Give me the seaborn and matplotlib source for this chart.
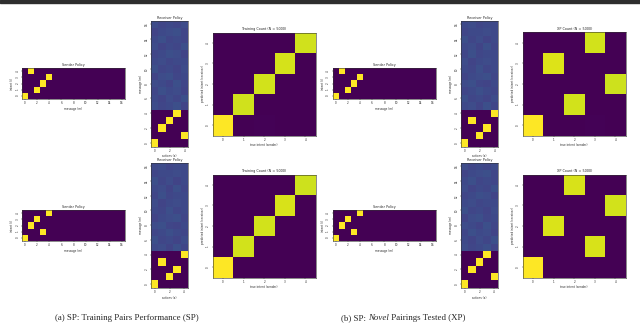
import matplotlib
matplotlib.use('Agg')
import numpy as np
import matplotlib.pyplot as plt
import seaborn as sns
from matplotlib.patches import Rectangle

sns.set_style('white')
plt.rcParams['font.family'] = ['DejaVu Sans']

# sender: message chosen for each intent (intent 0..4)
sender_1 = [0, 2, 3, 4, 1]
sender_2 = [0, 3, 1, 2, 4]
n_messages = 17

# receiver: action chosen for each used message (message 0..4)
receiver_1 = [0, 4, 1, 2, 3]
receiver_2 = [0, 2, 3, 1, 4]

# receiver probabilities for unused messages 5..16 (rows), actions 0..4
receiver_1_unused = [
    [0.23, 0.21, 0.22, 0.24, 0.20],
    [0.22, 0.20, 0.23, 0.21, 0.24],
    [0.21, 0.24, 0.22, 0.23, 0.20],
    [0.23, 0.22, 0.20, 0.24, 0.21],
    [0.20, 0.23, 0.24, 0.21, 0.22],
    [0.24, 0.21, 0.22, 0.20, 0.23],
    [0.22, 0.23, 0.21, 0.22, 0.22],
    [0.21, 0.22, 0.24, 0.23, 0.20],
    [0.23, 0.20, 0.22, 0.21, 0.24],
    [0.22, 0.24, 0.21, 0.22, 0.21],
    [0.20, 0.22, 0.23, 0.24, 0.21],
    [0.23, 0.21, 0.22, 0.21, 0.23],
]
receiver_2_unused = [
    [0.22, 0.23, 0.20, 0.24, 0.21],
    [0.24, 0.21, 0.22, 0.20, 0.23],
    [0.21, 0.22, 0.24, 0.22, 0.21],
    [0.23, 0.24, 0.21, 0.20, 0.22],
    [0.20, 0.22, 0.23, 0.24, 0.21],
    [0.22, 0.21, 0.24, 0.21, 0.22],
    [0.23, 0.20, 0.22, 0.23, 0.22],
    [0.21, 0.24, 0.21, 0.22, 0.22],
    [0.22, 0.23, 0.20, 0.24, 0.21],
    [0.24, 0.21, 0.23, 0.20, 0.22],
    [0.21, 0.22, 0.22, 0.23, 0.22],
    [0.22, 0.23, 0.21, 0.22, 0.22],
]

# confusion counts: rows = predicted intent (0 at bottom), cols = true intent
conf_a_top = [[1042, 3, 6, 2, 0],
              [0, 965, 0, 4, 0],
              [0, 0, 972, 0, 0],
              [0, 0, 0, 975, 0],
              [0, 0, 0, 0, 968]]
conf_b_top = [[1040, 4, 0, 5, 0],
              [0, 0, 968, 2, 0],
              [0, 0, 0, 0, 962],
              [0, 985, 0, 0, 0],
              [0, 0, 0, 970, 0]]
conf_a_bot = [[1045, 0, 0, 3, 0],
              [0, 972, 0, 0, 0],
              [0, 0, 975, 0, 0],
              [0, 0, 0, 980, 0],
              [0, 0, 0, 0, 966]]
conf_b_bot = [[1040, 0, 0, 0, 0],
              [0, 0, 0, 975, 0],
              [0, 982, 0, 0, 0],
              [0, 0, 0, 0, 968],
              [0, 0, 978, 0, 0]]

conf_titles = ['Training Count (N = 5000)', 'XP Count (N = 5000)']
captions = ['(a) SP: Training Pairs Performance (SP)',
            ['(b) SP: ', 'Novel', ' Pairings Tested (XP)']]

W, H = 640, 336
fig = plt.figure(figsize=(W / 100, H / 100), dpi=100)


def px_axes(left, top, width, height):
    return fig.add_axes([left / W, 1 - (top + height) / H, width / W, height / H])


def style(ax, title, xlabel, ylabel, fs=2.0):
    ax.invert_yaxis()
    ax.set_title(title, fontsize=2.4, pad=1.5)
    ax.set_xlabel(xlabel, fontsize=fs, labelpad=1)
    ax.set_ylabel(ylabel, fontsize=fs, labelpad=1)
    ax.tick_params(labelsize=fs, length=1, width=0.3, pad=0.8, bottom=True, left=True)
    for lab in ax.get_yticklabels():
        lab.set_rotation(90)
        lab.set_va('center')
    for lab in ax.get_xticklabels():
        lab.set_rotation(0)
    for sp in ax.spines.values():
        sp.set_visible(True)
        sp.set_linewidth(0.4)
        sp.set_color('#333333')


def draw_sender(ax, mapping):
    mat = np.zeros((len(mapping), n_messages))
    for i, m in enumerate(mapping):
        mat[i, m] = 1.0
    sns.heatmap(mat, ax=ax, cmap='viridis', vmin=0, vmax=1, cbar=False,
                square=True, xticklabels=2, yticklabels=1)
    style(ax, 'Sender Policy', 'message (m)', 'intent (i)')


def draw_receiver(ax, mapping, unused):
    mat = np.zeros((len(mapping), 5))
    for m, a in enumerate(mapping):
        mat[m, a] = 1.0
    mat = np.vstack([mat, np.array(unused)])
    sns.heatmap(mat, ax=ax, cmap='viridis', vmin=0, vmax=1, cbar=False,
                square=True, xticklabels=2, yticklabels=2)
    style(ax, 'Receiver Policy', 'actions (a)', 'message (m)')


def draw_conf(ax, counts, title):
    sns.heatmap(np.array(counts), ax=ax, cmap='viridis', cbar=False,
                square=True, xticklabels=1, yticklabels=1)
    style(ax, title, 'true intent (sender)', 'predicted intent (receiver)')


# layout in pixels
rows = [
    dict(top_s=68, top_r=20.7, h_r=126, top_c=32.3,
         senders=[sender_1, sender_1],
         receivers=[(receiver_1, receiver_1_unused), (receiver_2, receiver_2_unused)],
         confs=[conf_a_top, conf_b_top]),
    dict(top_s=210, top_r=162.7, h_r=125, top_c=174.3,
         senders=[sender_2, sender_2],
         receivers=[(receiver_2, receiver_2_unused), (receiver_1, receiver_1_unused)],
         confs=[conf_a_bot, conf_b_bot]),
]
group_x = [(22, 151, 212.7), (332.7, 461, 522.7)]

for r in rows:
    for g, (xs, xr, xc) in enumerate(group_x):
        draw_sender(px_axes(xs, r['top_s'], 103, 31), r['senders'][g])
        rec, unused = r['receivers'][g]
        draw_receiver(px_axes(xr, r['top_r'], 37, r['h_r']), rec, unused)
        draw_conf(px_axes(xc, r['top_c'], 103, 103.4), r['confs'][g], conf_titles[g])

# dark strip at top edge
fig.patches.append(Rectangle((0, 1 - 2.5 / H), 1, 2.5 / H, transform=fig.transFigure,
                             color='#2e2e2e', zorder=0))

# captions
cap_kw = dict(fontsize=6.4, family='Liberation Serif', va='center')
fig.text(127 / W, 1 - 318 / H, captions[0], ha='center', **cap_kw)

fig.canvas.draw()
renderer = fig.canvas.get_renderer()
parts = captions[1]
widths = []
tmp = []
for k, p in enumerate(parts):
    t = fig.text(0, 0, p, style='italic' if k == 1 else 'normal', **cap_kw)
    widths.append(t.get_window_extent(renderer).width)
    tmp.append(t)
for t in tmp:
    t.remove()
x0 = 403 - sum(widths) / 2
for k, p in enumerate(parts):
    fig.text(x0 / W, 1 - 318 / H, p, style='italic' if k == 1 else 'normal',
             ha='left', **cap_kw)
    x0 += widths[k]

fig.savefig('out.png', dpi=100)
